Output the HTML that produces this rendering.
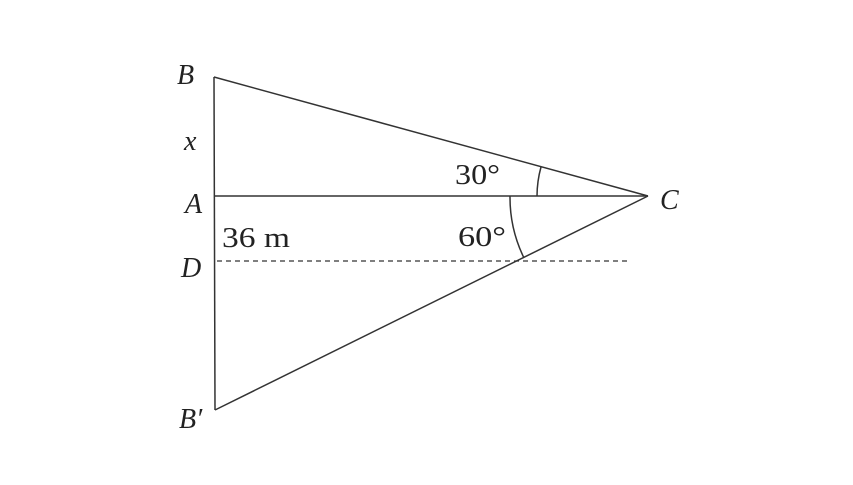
<!DOCTYPE html>
<html><head><style>html,body{margin:0;padding:0;background:#fff;}</style></head>
<body>
<svg width="853" height="480" viewBox="0 0 853 480" xmlns="http://www.w3.org/2000/svg">
<g stroke="#333" stroke-width="1.5" fill="none">
<line x1="214" y1="77" x2="215" y2="410"/>
<line x1="214" y1="77" x2="648" y2="196"/>
<line x1="215" y1="196" x2="648" y2="196"/>
<line x1="215" y1="410" x2="648" y2="196"/>
<line x1="217" y1="261" x2="628" y2="261" stroke-dasharray="5,4" stroke-width="1.2"/>
<path d="M537 196 A111 111 0 0 1 541 167"/>
<path d="M510 196 A138 138 0 0 0 524 258"/>
</g>
<g font-family="Liberation Serif, serif" fill="#222" font-size="28">
<text x="177" y="84" font-style="italic">B</text>
<text x="184" y="150" font-style="italic">x</text>
<text x="185" y="213" font-style="italic">A</text>
<text x="181" y="277" font-style="italic">D</text>
<text x="179" y="428" font-style="italic">B′</text>
<text x="660" y="209" font-style="italic">C</text>
<text x="222" y="247" textLength="68" lengthAdjust="spacingAndGlyphs">36 m</text>
<text x="455" y="184" textLength="45" lengthAdjust="spacingAndGlyphs">30°</text>
<text x="458" y="246" textLength="48" lengthAdjust="spacingAndGlyphs">60°</text>
</g>
</svg>
</body></html>
